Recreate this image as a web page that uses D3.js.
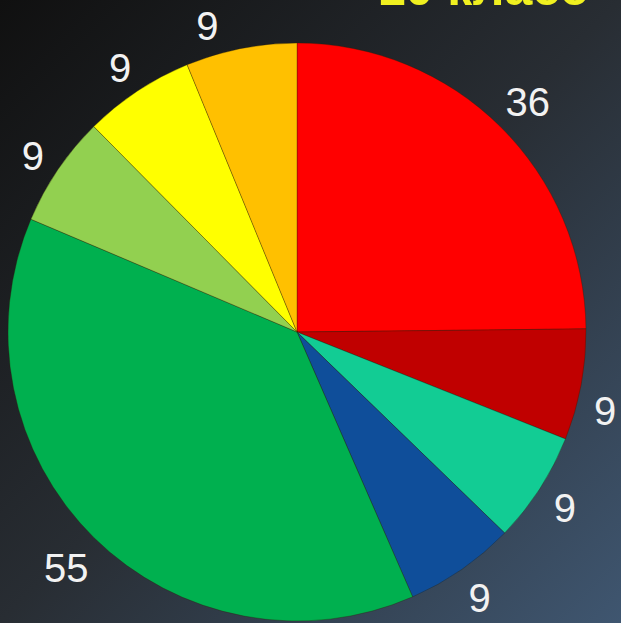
<!DOCTYPE html>
<html>
<head>
<meta charset="utf-8">
<script src="https://cdn.jsdelivr.net/npm/d3@7"></script>
<style>
  html, body { margin: 0; padding: 0; background: #1a1c1f; }
  svg { display: block; }
</style>
</head>
<body>
<svg id="chart"></svg>
<script>
// slices, clockwise from 12 o'clock
const labels = ["36", "9", "9", "9", "55", "9", "9", "9"];
const values = [36, 9, 9, 9, 55, 9, 9, 9];
const colors = ["#ff0000", "#c00000", "#12cc94", "#0f4e9a", "#00b04f", "#92d050", "#ffff00", "#ffc000"];
const title = "10 класс";

const width = 621, height = 623;
const cx = 297, cy = 332, radius = 289;

const svg = d3.select("#chart").attr("width", width).attr("height", height);

// background gradient
const defs = svg.append("defs");
const bg = defs.append("linearGradient")
  .attr("id", "bg")
  .attr("x1", "0%").attr("y1", "0%")
  .attr("x2", "100%").attr("y2", "100%");
bg.append("stop").attr("offset", "0%").attr("stop-color", "#101010");
bg.append("stop").attr("offset", "50%").attr("stop-color", "#282d33");
bg.append("stop").attr("offset", "100%").attr("stop-color", "#3f5670");

svg.append("rect").attr("width", width).attr("height", height).attr("fill", "url(#bg)");

const pie = d3.pie().sort(null).value(d => d)(values);
const arc = d3.arc().innerRadius(0).outerRadius(radius);

const g = svg.append("g").attr("transform", `translate(${cx},${cy})`);

g.selectAll("path")
  .data(pie)
  .join("path")
  .attr("d", arc)
  .attr("fill", (d, i) => colors[i])
  .attr("stroke", "rgba(40,30,0,0.45)")
  .attr("stroke-width", 0.7);

// data labels outside the pie: the label box sits a small gap off the rim,
// and is kept inside the window by sliding it along its circle
const gap = 12, halfH = 16;
g.selectAll("text.lbl")
  .data(pie)
  .join("text")
  .attr("class", "lbl")
  .attr("text-anchor", "middle")
  .attr("dominant-baseline", "central")
  .attr("font-family", "Liberation Sans, Arial, sans-serif")
  .attr("font-size", 40)
  .attr("fill", "#f2f2f2")
  .text((d, i) => labels[i])
  .each(function (d) {
    const a = (d.startAngle + d.endAngle) / 2;
    const halfW = this.getComputedTextLength() / 2;
    const s = Math.sin(a), c = Math.cos(a);
    const r = radius + gap + Math.abs(s) * halfW + Math.abs(c) * halfH;
    let x = r * s;
    let y = -r * c + 3;
    const minY = 26 - cy, maxX = width - cx - 16;
    if (y < minY) {
      y = minY;
      x = Math.sign(x) * Math.sqrt(r * r - y * y);
    }
    if (x > maxX) {
      const r2 = r + 3;
      x = maxX;
      y = Math.sign(y) * Math.sqrt(Math.max(0, r2 * r2 - x * x));
    }
    d3.select(this).attr("x", x).attr("y", y);
  });

// title (cut off at the top edge)
svg.append("text")
  .attr("x", 588)
  .attr("y", 5)
  .attr("text-anchor", "end")
  .attr("font-family", "Liberation Sans, Arial, sans-serif")
  .attr("font-weight", "bold")
  .attr("font-size", 50)
  .attr("fill", "#f0f020")
  .text(title);
</script>
</body>
</html>
